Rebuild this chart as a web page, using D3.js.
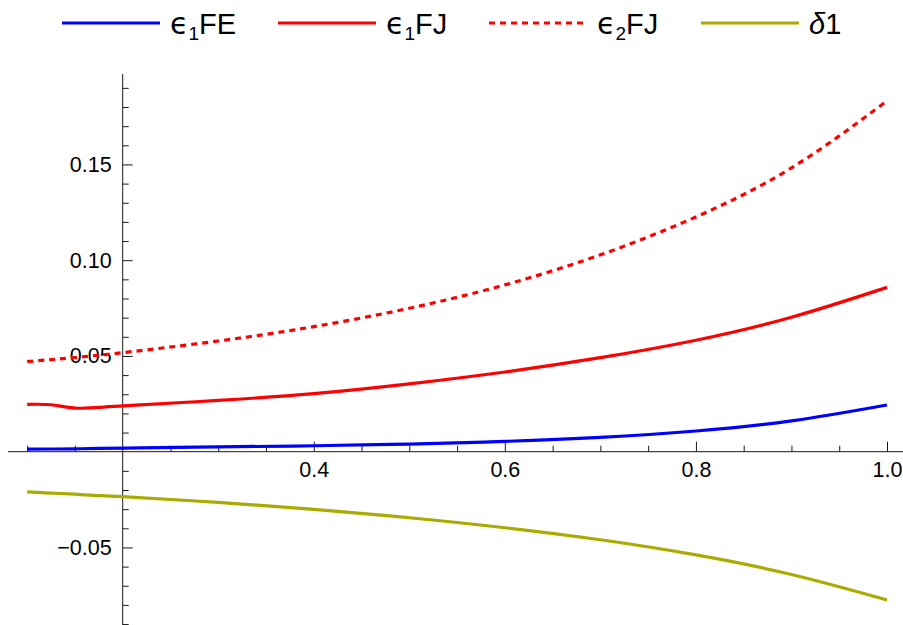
<!DOCTYPE html>
<html><head><meta charset="utf-8">
<script src="https://cdn.jsdelivr.net/npm/d3@7"></script>
<style>
body{margin:0;background:#fff;}
svg{display:block;font-family:"Liberation Sans",Arial,sans-serif;}
</style></head>
<body>
<svg id="chart" width="903" height="625"></svg>
<script>
// ---- data ----
const xs        = [0.1, 0.125, 0.15, 0.175, 0.2, 0.3, 0.4, 0.5, 0.6, 0.7, 0.8, 0.9, 1.0];
const eps1FE    = [0.0013,0.0014,0.0015,0.0017,0.0019,0.0025,0.0031,0.0040,0.0054,0.0075,0.0108,0.0161,0.0244];
const eps1FJ    = [0.0247,0.0245,0.0228,0.0231,0.0239,0.0268,0.0303,0.0354,0.0416,0.0491,0.0582,0.0702,0.0858];
const eps2FJ    = [0.0470,0.0481,0.0492,0.0504,0.0517,0.0578,0.0653,0.0749,0.0871,0.1028,0.1226,0.1482,0.1832];
const delta1    = [-0.0210,-0.0216,-0.0222,-0.0229,-0.0235,-0.0265,-0.0301,-0.0345,-0.0397,-0.0460,-0.0539,-0.0641,-0.0774];
const xMajor    = [0.4, 0.6, 0.8, 1.0];
const xMinor    = [0.1,0.15,0.25,0.3,0.35,0.45,0.5,0.55,0.65,0.7,0.75,0.85,0.9,0.95];
const yMajor    = [-0.05, 0.05, 0.10, 0.15];
const yMinor    = [-0.09,-0.08,-0.07,-0.06,-0.04,-0.03,-0.02,-0.01,0.01,0.02,0.03,0.04,0.06,0.07,0.08,0.09,0.11,0.12,0.13,0.14,0.16,0.17,0.18,0.19];
const seriesNames = ["ϵ1FE","ϵ1FJ","ϵ2FJ","δ1"];

// ---- styles ----
const series = [
  {key:"eps1FE", vals:eps1FE, color:"#0000ff", dash:null,  lab:["ϵ","1","FE"]},
  {key:"eps1FJ", vals:eps1FJ, color:"#ff0000", dash:null,  lab:["ϵ","1","FJ"]},
  {key:"eps2FJ", vals:eps2FJ, color:"#ff0000", dash:"6,5", lab:["ϵ","2","FJ"]},
  {key:"delta1", vals:delta1, color:"#aaaa00", dash:null,  lab:["δ","","1"]}
];

const svg = d3.select("#chart");
const x = d3.scaleLinear().domain([0.2, 1.0]).range([122.7, 887]);
const y = d3.scaleLinear().domain([0, 0.15]).range([451.7, 164.45]);

const axisColor = "#1a1a1a";
svg.append("line").attr("x1", 8).attr("x2", 903).attr("y1", y(0)).attr("y2", y(0))
  .attr("stroke", axisColor).attr("stroke-width", 1);
svg.append("line").attr("x1", x(0.2)).attr("x2", x(0.2)).attr("y1", 74).attr("y2", 625)
  .attr("stroke", axisColor).attr("stroke-width", 1);

function styleAxis(g){
  g.select(".domain").remove();
  g.selectAll(".tick line").attr("stroke", axisColor).attr("stroke-width", 1);
  g.selectAll(".tick text").attr("fill", "#000").style("font-size", "21.5px")
    .style("font-family", '"Liberation Sans", Arial, sans-serif');
}
const fmt = d => {
  const s = d3.format(".2f")(Math.abs(d));
  return (d < 0 ? "\u2212" : "") + s;
};
svg.append("g").attr("transform", `translate(0,${y(0)})`)
  .call(d3.axisBottom(x).tickValues(xMajor).tickSize(-10).tickPadding(10).tickFormat(d3.format(".1f")))
  .call(styleAxis);
svg.append("g").attr("transform", `translate(0,${y(0)})`)
  .call(d3.axisBottom(x).tickValues(xMinor).tickSize(-6).tickFormat(""))
  .call(styleAxis);
svg.append("g").attr("transform", `translate(${x(0.2)},0)`)
  .call(d3.axisLeft(y).tickValues(yMajor).tickSize(-10).tickPadding(11).tickFormat(fmt))
  .call(styleAxis);
svg.append("g").attr("transform", `translate(${x(0.2)},0)`)
  .call(d3.axisLeft(y).tickValues(yMinor).tickSize(-6).tickFormat(""))
  .call(styleAxis);

const line = d3.line().x(d => x(d[0])).y(d => y(d[1])).curve(d3.curveNatural);
series.forEach(s => {
  svg.append("path")
    .datum(xs.map((v, i) => [v, s.vals[i]]))
    .attr("fill", "none").attr("stroke", s.color).attr("stroke-width", 3.2)
    .attr("stroke-dasharray", s.dash)
    .attr("d", line);
});

const legX = [62, 278, 489, 701];
const leg = svg.append("g");
series.forEach((s, i) => {
  const g = leg.append("g").attr("transform", `translate(${legX[i]},23)`);
  g.append("line").attr("x1", 0).attr("x2", 98).attr("y1", 0).attr("y2", 0)
    .attr("stroke", s.color).attr("stroke-width", 3.2).attr("stroke-dasharray", s.dash);
  const t = g.append("text").attr("x", 108).attr("y", 11).style("font-size", "29px").attr("fill", "#000");
  if (s.key === "delta1") {
    t.append("tspan").text(s.lab[0]).style("font-style", "italic");
    t.append("tspan").text(s.lab[2]);
  } else {
    t.append("tspan").text(s.lab[0]).style("font-family", '"DejaVu Sans", sans-serif').style("font-size", "30px");
    t.append("tspan").text(s.lab[1]).style("font-size", "19px").attr("dy", 6);
    t.append("tspan").text(s.lab[2]).attr("dy", -6);
  }
});
</script>
</body></html>
